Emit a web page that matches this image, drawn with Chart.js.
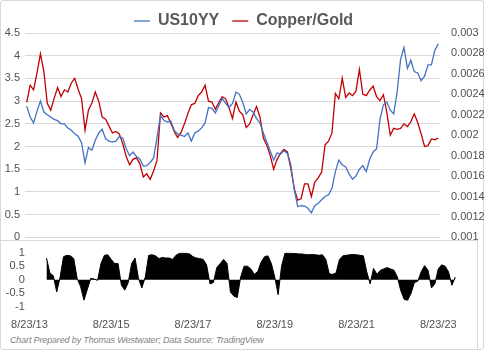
<!DOCTYPE html>
<html lang="en">
<head>
<meta charset="UTF-8">
<title>US10YY vs Copper/Gold</title>
<script src="https://cdn.jsdelivr.net/npm/chart.js"></script>
<style>
    body {
        margin: 0;
        background: #fff;
    }

    #wrap {
        position: relative;
        width: 487px;
        height: 351px;
        overflow: hidden;
        background: #fff;
    }

    #frame {
        position: absolute;
        left: 0;
        top: 0;
        width: 484px;
        height: 350px;
        border: 1px solid #d9d9d9;
        border-radius: 3px;
        box-sizing: border-box;
    }

    #inset {
        position: absolute;
        left: 0;
        top: 240px;
        width: 478px;
        height: 110px;
        border-top: 1px solid #d9d9d9;
        border-right: 1px solid #d9d9d9;
        box-sizing: border-box;
    }

    #topChart {
        position: absolute;
        left: 0;
        top: 0;
        z-index: 2;
    }

    #bottomChart {
        position: absolute;
        left: 0;
        top: 243px;
        z-index: 1;
    }

    #note {
        position: absolute;
        left: 10px;
        top: 335px;
        font: italic 9px "Liberation Sans", Arial, sans-serif;
        letter-spacing: -0.15px;
        color: #7f7f7f;
        white-space: nowrap;
    }
</style>
</head>
<body>
<div id="wrap">
    <div id="frame"></div>
    <div id="inset"></div>
    <canvas id="topChart" width="487" height="255"></canvas>
    <canvas id="bottomChart" width="487" height="94"></canvas>
    <div id="note">Chart Prepared by Thomas Westwater; Data Source: TradingView</div>
</div>

<script>
    // monthly readings, starting Aug 2013
    const us10yy = [
        2.89, 2.65, 2.52, 2.78, 3.0, 2.76, 2.70, 2.65, 2.6, 2.57,
        2.50, 2.50, 2.41, 2.36, 2.28, 2.23, 2.08, 1.64, 1.98, 1.92,
        2.14, 2.30, 2.38, 2.17, 2.12, 2.10, 2.12, 2.22, 2.19, 1.95,
        1.80, 1.88, 1.78, 1.72, 1.57, 1.58, 1.65, 1.75, 2.2, 2.68,
        2.58, 2.54, 2.56, 2.36, 2.28, 2.25, 2.22, 2.30, 2.12, 2.30,
        2.34, 2.41, 2.52, 2.86, 2.84, 2.74, 2.90, 3.06, 2.95, 2.86,
        2.95, 3.2, 3.15, 2.97, 2.72, 2.82, 2.76, 2.62, 2.52, 2.30,
        2.10, 1.90, 1.70, 1.86, 1.83, 1.91, 1.85, 1.60, 1.05, 0.68,
        0.70, 0.69, 0.64, 0.54, 0.70, 0.75, 0.83, 0.90, 0.94, 1.08,
        1.45, 1.70, 1.60, 1.55, 1.40, 1.28, 1.35, 1.50, 1.58, 1.45,
        1.72, 1.88, 1.95, 2.6, 2.92, 2.98, 2.80, 2.72, 3.2, 3.92,
        4.18, 3.72, 3.90, 3.65, 3.62, 3.45, 3.55, 3.80, 3.80, 4.12,
        4.26
    ];

    const copperGold = [
        0.002320, 0.002489, 0.002444, 0.002609, 0.002796, 0.002622, 0.002311, 0.002244, 0.002360, 0.002467,
        0.002378, 0.002444, 0.002422, 0.002511, 0.002556, 0.002449, 0.002356, 0.002049, 0.002244, 0.002316,
        0.002422, 0.002333, 0.002178, 0.002156, 0.002089, 0.002022, 0.002036, 0.002013, 0.001916, 0.001791,
        0.001711, 0.001764, 0.001778, 0.001720, 0.001591, 0.001622, 0.001569, 0.001649, 0.001756, 0.002218,
        0.002178, 0.002191, 0.002120, 0.002036, 0.001978, 0.002027, 0.002111, 0.002213, 0.002298, 0.002311,
        0.002387, 0.002422, 0.002489, 0.002333, 0.002324, 0.002253, 0.002320, 0.002378, 0.002356, 0.002267,
        0.002164, 0.002324, 0.002236, 0.002200, 0.002076, 0.002111, 0.002200, 0.002280, 0.002178, 0.001973,
        0.001902, 0.001800, 0.001667, 0.001764, 0.001822, 0.001862, 0.001836, 0.001676, 0.001480, 0.001364,
        0.001378, 0.001524, 0.001524, 0.001400, 0.001542, 0.001582, 0.001640, 0.001907, 0.001942, 0.002022,
        0.002409, 0.002356, 0.002556, 0.002369, 0.002413, 0.002387, 0.002431, 0.002644, 0.002400, 0.002387,
        0.002440, 0.002480, 0.002378, 0.002338, 0.002396, 0.002222, 0.002000, 0.002067, 0.002058, 0.002067,
        0.002111, 0.002084, 0.002133, 0.002209, 0.002124, 0.002013, 0.001889, 0.001898, 0.001964, 0.001956,
        0.001973
    ];

    // rolling correlation (starts a few months in)
    const correlation = [
        null, null, null, null, null, 0.8, 0.25, 0.15, -0.45, 0.1,
        0.85, 0.9, 0.88, 0.78, 0.05, -0.25, -0.75, -0.35, 0.05, 0.03,
        -0.02, 0.6, 0.9, 0.92, 0.75, 0.6, 0.6, -0.2, -0.38, -0.1,
        0.6, 0.8, 0.05, -0.3, 0.1, 0.9, 0.92, 0.88, 0.78, 0.82,
        0.8, 0.8, 0.75, 0.9, 0.97, 0.98, 0.97, 0.95, 0.85, 0.8,
        0.78, 0.75, 0.55, -0.15, -0.1, 0.45, 0.6, 0.75, 0.6, -0.45,
        -0.6, -0.65, 0.1, 0.5, 0.5, 0.4, 0.2, 0.3, 0.65, 0.85,
        0.88, 0.6, 0.1, -0.55, 0.5, 0.98, 0.98, 0.97, 0.97, 0.95,
        0.95, 0.93, 0.92, 0.93, 0.92, 0.9, 0.92, 0.75, 0.22, 0.2,
        0.25, 0.75, 0.88, 0.9, 0.92, 0.93, 0.92, 0.9, 0.88, 0.3,
        -0.15, 0.42, 0.2, 0.35, 0.4, 0.45, 0.4, 0.35, 0.1, -0.4,
        -0.72, -0.75, -0.5, -0.1, -0.05, 0.3, 0.52, 0.35, -0.3, -0.15,
        0.4, 0.55, 0.5, 0.3, -0.2, 0.1
    ];

    const tickLabels = ['8/23/13', '8/23/15', '8/23/17', '8/23/19', '8/23/21', '8/23/23'];

    // month labels m/23/yy from Aug 2013
    const months = [];
    for (let i = 0; i < correlation.length; i++) {
        const n = 7 + i;
        months.push((n % 12 + 1) + '/23/' + String(2013 + Math.floor(n / 12)).slice(2));
    }

    const grey = '#505050';
    const tickFont = { family: '"Liberation Sans", Arial, sans-serif', size: 11 };
    const plain = v => String(+Number(v).toFixed(4));

    new Chart(document.getElementById('topChart'), {
        type: 'line',
        data: {
            labels: months.slice(0, us10yy.length),
            datasets: [{
                label: 'US10YY',
                data: us10yy,
                borderColor: '#4472c4',
                borderWidth: 1.3,
                pointRadius: 0,
                yAxisID: 'y'
            }, {
                label: 'Copper/Gold',
                data: copperGold,
                borderColor: '#c00000',
                borderWidth: 1.3,
                pointRadius: 0,
                yAxisID: 'y1'
            }]
        },
        options: {
            responsive: false,
            animation: false,
            layout: { padding: { top: 0, bottom: 8 } },
            plugins: {
                tooltip: { enabled: false },
                legend: {
                    maxHeight: 33,
                    labels: {
                        usePointStyle: true,
                        pointStyle: 'line',
                        pointStyleWidth: 16,
                        padding: 13,
                        color: '#595959',
                        font: { family: '"Liberation Sans", Arial, sans-serif', size: 16, weight: 'bold' }
                    }
                }
            },
            scales: {
                x: { display: false, offset: true },
                y: {
                    position: 'left',
                    min: 0,
                    max: 4.5,
                    ticks: { stepSize: 0.5, autoSkip: false, padding: 5, color: grey, font: tickFont, callback: plain },
                    grid: { color: '#d9d9d9', drawTicks: false },
                    border: { display: false },
                    afterFit(s) { s.width = 25; }
                },
                y1: {
                    position: 'right',
                    min: 0.001,
                    max: 0.003,
                    ticks: { stepSize: 0.0002, autoSkip: false, padding: 11, color: grey, font: tickFont, callback: plain },
                    grid: { display: false, drawTicks: false },
                    border: { display: false },
                    afterFit(s) { s.width = 47; }
                }
            }
        }
    });

    new Chart(document.getElementById('bottomChart'), {
        type: 'line',
        data: {
            labels: months,
            datasets: [{
                data: correlation,
                fill: 'origin',
                backgroundColor: '#000',
                borderColor: '#000',
                borderWidth: 1,
                pointRadius: 0
            }]
        },
        options: {
            responsive: false,
            animation: false,
            layout: { padding: { top: 6, right: 30 } },
            plugins: { legend: { display: false }, tooltip: { enabled: false } },
            scales: {
                x: {
                    offset: true,
                    grid: { display: false, drawTicks: false },
                    border: { display: false },
                    ticks: {
                        autoSkip: false,
                        maxRotation: 0,
                        padding: 11,
                        color: grey,
                        font: tickFont,
                        callback(v) {
                            const l = this.getLabelForValue(v);
                            return tickLabels.includes(l) ? l : '';
                        }
                    },
                    afterFit(s) { s.height = 30; }
                },
                y: {
                    min: -1,
                    max: 1,
                    ticks: { stepSize: 0.5, autoSkip: false, padding: 3, color: grey, font: tickFont, callback: plain },
                    grid: { display: false, drawTicks: false },
                    border: { display: false },
                    afterFit(s) { s.width = 25; }
                }
            }
        }
    });
</script>
</body>
</html>
